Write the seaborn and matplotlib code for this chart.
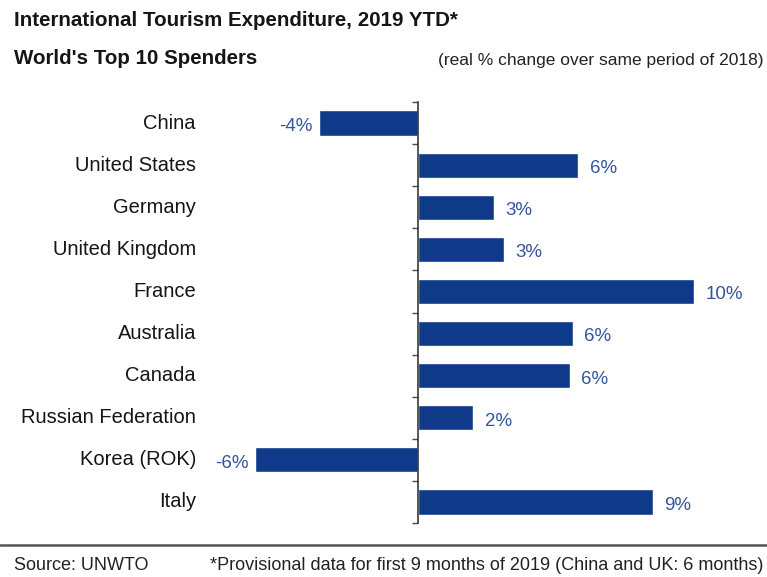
import matplotlib
matplotlib.use("Agg")
import matplotlib.pyplot as plt
import matplotlib.transforms as mtransforms
import numpy as np
import pandas as pd
import seaborn as sns

countries = ["China", "United States", "Germany", "United Kingdom", "France",
             "Australia", "Canada", "Russian Federation", "Korea (ROK)", "Italy"]
change = [-3.6, 5.8, 2.75, 3.1, 10.0, 5.6, 5.5, 2.0, -5.9, 8.5]

title = "International Tourism Expenditure, 2019 YTD*"
subtitle = "World's Top 10 Spenders"
note = "(real % change over same period of 2018)"
source = "Source: UNWTO"
footnote = "*Provisional data for first 9 months of 2019 (China and UK: 6 months)"

bar_color = "#0f3a8a"
label_color = "#34559c"


def pct(v):
    # round half away from zero for the value labels
    return f"{int(np.sign(v) * np.floor(abs(v) + 0.5))}%"


sns.set_theme(style="white")
plt.rcParams["font.family"] = ["Liberation Sans", "DejaVu Sans"]

df = pd.DataFrame({"country": countries, "change": change})

fig = plt.figure(figsize=(7.67, 5.77), dpi=100)
W, H = 767, 577
ax = fig.add_axes([230 / W, 1 - 523 / H, 500 / W, 421 / H])

sns.barplot(data=df, x="change", y="country", order=countries, orient="h",
            color=bar_color, saturation=1, width=0.6, ax=ax)

x0_px = 418
px_per = 27.6
ax.set_xlim((230 - x0_px) / px_per, (730 - x0_px) / px_per)
ax.set_ylim(len(countries) - 0.5, -0.5)

for s in ["top", "right", "bottom"]:
    ax.spines[s].set_visible(False)
ax.spines["left"].set_position(("data", 0))
ax.spines["left"].set_color("#3a3a3a")
ax.spines["left"].set_linewidth(1.2)
ax.set_xticks([])
ax.set_yticks(np.arange(-0.5, len(countries), 1.0))
ax.set_yticklabels([])
ax.tick_params(axis="y", direction="out", length=4, width=1, color="#5a4a30", left=True)
ax.set_xlabel("")
ax.set_ylabel("")

trans = mtransforms.blended_transform_factory(fig.transFigure, ax.transData)
for i, c in enumerate(countries):
    ax.text(196 / W, i, c, transform=trans, ha="right", va="center",
            fontsize=14.5, color="#151515")

for i, v in enumerate(change):
    off = 0.42 if v >= 0 else -0.22
    ax.text(v + off, i + 0.08, pct(v), ha="left" if v >= 0 else "right",
            va="center", fontsize=13.5, color=label_color)

fig.text(14 / W, 1 - 21 / H, title, fontsize=14.8, fontweight="bold",
         ha="left", va="center", color="#151515")
fig.text(14 / W, 1 - 59 / H, subtitle, fontsize=14.8, fontweight="bold",
         ha="left", va="center", color="#151515")
fig.text(763 / W, 1 - 60 / H, note, fontsize=12.5, ha="right", va="center",
         color="#222222")

fig.add_artist(plt.Line2D([0, 1], [1 - 545 / H, 1 - 545 / H],
                          transform=fig.transFigure, color="#555555", linewidth=1.8))
fig.text(14 / W, 1 - 566 / H, source, fontsize=13, ha="left", va="center",
         color="#222222")
fig.text(763 / W, 1 - 566 / H, footnote, fontsize=13, ha="right", va="center",
         color="#222222")

fig.savefig("out.png", dpi=100, facecolor="white")
